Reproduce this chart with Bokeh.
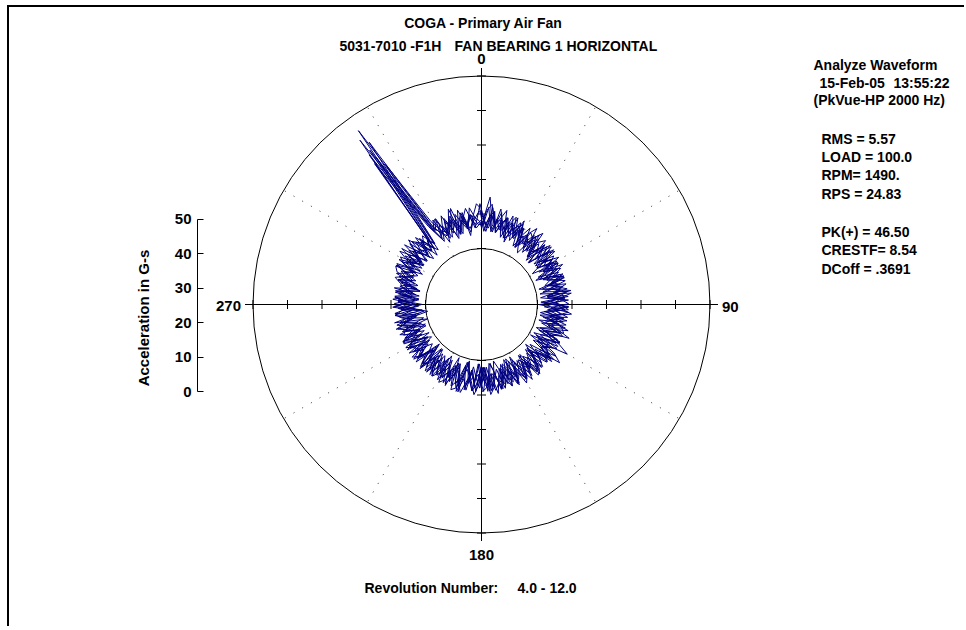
import numpy as np
from bokeh.plotting import figure
from bokeh.models import Range1d, LinearAxis, FixedTicker
from bokeh.core.properties import value
from bokeh.embed import file_html
from bokeh.resources import INLINE

# ---------------- data ----------------
title_line1 = "COGA - Primary Air Fan"
point_id = "5031-7010 -F1H"
point_desc = "FAN BEARING 1 HORIZONTAL"
angle_labels = ["0", "90", "180", "270"]
angle_label_deg = [0, 90, 180, 270]
g_ticks = [0, 10, 20, 30, 40, 50]
g_max = 50
dotted_deg = [30, 60, 120, 150, 210, 240, 300, 330]
y_axis_title = "Acceleration in G-s"
rev_caption = "Revolution Number:"
rev_span = "4.0 -  12.0"
info_head = ["Analyze Waveform", "15-Feb-05", "13:55:22", "(PkVue-HP 2000 Hz)"]
info_stats1 = ["RMS =  5.57", "LOAD = 100.0", "RPM= 1490.", "RPS = 24.83"]
info_stats2 = ["PK(+) = 46.50", "CRESTF= 8.54", "DCoff = .3691"]

step_deg = 3
rev_phase_deg = [0.7, 1.3, -0.9, 0.4, -0.5, 1.6, 0.1, -1.2]

rev4_g = [10, 6, 12, 7, 9, 4, 8, 11, 5, 9, 3, 8,
          6, 10, 4, 7, 2, 9, 5, 8, 3, 10, 6, 4,
          8, 2, 7, 5, 9, 1, 6, 8, 3, 7, 4, 9,
          5, 2, 8, 6, 3, 9, 12, 4, 7, 2, 8, 5,
          9, 3, 6, 8, 2, 7, 4, 9, 5, 1, 8, 6,
          3, 9, 5, 7, 1, 8, 4, 6, 9, 2, 7, 5,
          8, 3, 6, 2, 9, 5, 7, 3, 8, 4, 6, 9,
          2, 7, 5, 8, 1, 6, 9, 3, 7, 4, 8, 5,
          9, 5, 11, 6, 8, 4, 10, 7, 5, 9, 6, 4,
          45.5, 11, 7, 9, 5, 10, 6, 12, 8, 5, 9, 7]
rev5_g = [7, 12, 5, 9, 6, 10, 4, 7, 9, 3, 7, 5,
          9, 4, 8, 6, 10, 3, 7, 5, 9, 2, 8, 5,
          3, 9, 6, 4, 8, 2, 9, 5, 7, 1, 6, 8,
          9, 4, 6, 1, 8, 5, 10, 7, 3, 9, 4, 7,
          4, 8, 2, 9, 6, 3, 8, 5, 10, 4, 7, 2,
          8, 5, 2, 9, 6, 10, 3, 7, 5, 8, 2, 6,
          4, 9, 6, 1, 7, 5, 8, 2, 6, 9, 3, 7,
          6, 9, 3, 7, 4, 9.5, 5, 2, 8, 6, 3, 9,
          5, 8, 6, 10, 4, 9, 7, 11, 5, 8, 10, 6,
          41, 9, 12, 6, 8, 11, 5, 9, 7, 10, 6, 11]
rev6_g = [13, 8, 6, 11, 5, 8, 10, 6, 8, 5, 9, 4,
          7, 3, 9, 5, 8, 6, 4, 9, 7, 4, 8, 3,
          6, 9, 4, 7, 3, 8, 5, 2, 9, 6, 3, 7,
          2, 7, 4, 9, 5, 3, 7, 9, 5, 8, 3, 6,
          7, 5, 9, 4, 7, 1, 6, 9, 3, 6, 9, 4,
          6, 1, 7, 4, 8, 5, 9, 6, 3, 9, 5, 8,
          6, 2, 8, 5, 3, 8, 4, 9, 2, 7, 5, 3,
          8, 4, 1, 7, 9, 3, 6, 8, 2, 9, 5, 7,
          4, 10, 7, 5, 9, 6, 12, 4, 8, 6, 9, 5,
          38, 12, 6, 10, 7, 9, 4, 8, 11, 7, 10, 6]
rev7_g = [8, 5, 10, 7, 11, 6, 9, 5, 7, 10, 6, 8,
          4, 8, 6, 2, 9, 7, 3, 8, 5, 7, 2, 9,
          5, 7, 2, 9, 6, 4, 7, 9, 2, 8, 5, 3,
          7, 9, 5, 3, 9, 6, 8, 2, 6, 9, 5, 3,
          8, 6, 3, 7, 5, 9, 2, 7, 6, 4, 9, 7,
          2, 7, 9, 5, 3, 6, 8, 2, 7, 4, 9, 3,
          9, 5, 7, 8, 4, 2, 6, 7, 9, 3, 8, 5,
          4, 8, 6, 2, 5, 8, 3, 9.5, 5, 7, 2, 6,
          8, 6, 4, 9, 11, 5, 7, 9, 4, 11, 7, 8,
          36, 10, 8, 6, 11, 7, 9, 5, 10, 6, 8, 10]
rev8_g = [11, 7, 9, 5, 12, 8, 6, 9, 4, 8, 6, 10,
          5, 9, 7, 3, 6, 10, 5, 3, 8, 6, 9, 6,
          9, 4, 8, 6, 1, 7, 9, 4, 6, 9, 2, 6,
          4, 8, 6, 9, 2, 7, 5, 8, 9, 4, 7, 9,
          5, 3, 8, 6, 9, 4, 8, 3, 7, 9, 5, 8,
          9, 4, 6, 3, 9, 2, 7, 9, 4, 6, 8, 4,
          2, 8, 4, 9, 6, 7, 3, 5, 8, 6, 2, 8,
          7, 3, 8, 5, 0.5, 7, 4, 6, 9, 3, 7, 8,
          10, 7, 5, 8, 6, 10, 5, 8, 12, 7, 5, 9,
          43, 11, 5, 8, 12, 6, 10, 7, 9, 12, 8, 7]
rev9_g = [9, 15, 7, 6, 9, 5, 11, 7, 10, 6, 4, 9,
          8, 6, 3, 9, 5, 8, 6, 10, 4, 7, 5, 8,
          4, 6, 9, 3, 7, 5, 8, 3, 6, 4, 9, 5,
          8, 3, 9, 7, 6, 2, 9, 5, 4, 7, 9, 2,
          6, 9, 5, 2, 8, 6, 3, 9, 4, 8, 2, 9,
          5, 8, 3, 6, 10, 7, 2, 8, 5, 3, 7, 9,
          7, 4, 9, 3, 8, 6, 2, 9, 5, 8, 4, 6,
          9, 6, 3, 9, 7, 2, 8, 5, 4, 8, 6, 3,
          7, 9, 5, 11, 7, 4, 9, 6, 10, 5, 8, 6,
          33, 12, 8, 7, 9, 5, 11, 8, 6, 10, 9, 8]
rev10_g = [6, 11, 13, 7, 9, 12, 4, 9, 6, 11, 3, 8,
           11, 4, 8, 10, 2, 7, 10, 3, 9, 6, 1, 8,
           9, 1, 5, 10, 3, 9, 0.5, 7, 10, 4, 8, 1,
           7, 11, 2, 9, 12.5, 3, 6, 10, 1, 5, 9, 10,
           2, 8, 10, 4, 1, 9, 7, 3, 0.5, 8, 10, 2,
           8, 1, 9, 6, 0.5, 10, 4, 2, 9.5, 5, 1, 8,
           3, 9, 1, 8, 4, 9, 6, 1, 3, 9, 8, 1,
           6, 0, 9.5, 3, 9, 5, 1, 8, 4, 9, 2, 8,
           5, 10, 11, 3, 8, 12, 7, 4, 11, 9, 3, 8,
           39, 9, 12, 4, 10, 8, 13, 6, 11, 4, 9, 13]
rev11_g = [12, 5, 9, 11, 5, 8, 10, 3, 11, 6, 9, 4,
           2, 8, 11, 3, 9, 4, 10, 5, 1, 9, 7, 3,
           9, 4, 7, 1, 10, 6, 2, 9, 4, 1, 9, 5,
           10, 5, 1, 6, 9, 0.5, 10, 5, 9, 2, 7, 10,
           4, 10, 6, 1, 9.5, 4, 2, 7, 9, 3, 1, 9,
           2, 7, 10, 6, 3, 1, 9, 10, 0.5, 8, 9.5, 3,
           9, 5, 1, 9.5, 0.5, 7, 9, 3, 8, 1, 9, 5,
           1, 9.5, 6, 4, -0.5, 3, 9, 5, 9, 2, 9.5, 3,
           9, 4, 8, 11, 4, 9, 5, 12, 6, 3, 10, 5,
           35, 11, 6, 12, 5, 9, 13, 5, 10, 6, 12, 9]
revolutions = [rev4_g, rev5_g, rev6_g, rev7_g, rev8_g, rev9_g, rev10_g, rev11_g]

# ---------------- layout ----------------
ORGX, ORGY = 9, 7        # page position of canvas (css margin + 2px border)
W, H = 957, 621
CXP, CYP = 481, 304      # page position of polar centre
FRAME_LEFT = 197         # page x of left axis line
G0_PAGE = 391            # page y of 0 g on left axis
R0 = 56.0                # px radius of 0 g circle
K = 3.45                 # px per g
TEXT_DY = 5              # baseline correction for text glyphs

FONT = value("Liberation Sans")

def dx(px):
    return px - CXP

def dy(py):
    return CYP - py

p = figure(width=W, height=H, output_backend="svg", toolbar_location=None,
           x_range=Range1d(FRAME_LEFT - CXP, ORGX + W - CXP),
           y_range=Range1d(CYP - (ORGY + H), CYP - ORGY),
           x_axis_location=None, y_axis_location=None,
           min_border_left=FRAME_LEFT - ORGX, min_border_right=0,
           min_border_top=0, min_border_bottom=0,
           background_fill_color="white", border_fill_color="white",
           styles={"margin-left": "7px", "margin-top": "5px",
                   "border-left": "2px solid black", "border-top": "2px solid black"})
p.outline_line_color = None
for g in p.grid:
    g.visible = False

# left axis in g units
p.extra_y_ranges = {"g": Range1d(start=(G0_PAGE - (ORGY + H)) / K, end=(G0_PAGE - ORGY) / K)}
ax = LinearAxis(y_range_name="g", bounds=(0, g_max), ticker=FixedTicker(ticks=g_ticks),
                axis_label=y_axis_title)
ax.major_tick_in = 6
ax.major_tick_out = 0
ax.minor_tick_line_color = None
ax.axis_line_color = "black"
ax.major_tick_line_color = "black"
ax.major_label_standoff = 6
ax.major_label_text_font = "Liberation Sans"
ax.major_label_text_font_style = "bold"
ax.major_label_text_font_size = "15px"
ax.major_label_text_color = "black"
ax.axis_label_text_font = "Liberation Sans"
ax.axis_label_text_font_style = "bold"
ax.axis_label_text_font_size = "15px"
ax.axis_label_text_color = "black"
ax.axis_label_standoff = 20
p.add_layout(ax, "left")

r_out = R0 + K * g_max

# dotted radial lines
th = np.deg2rad(dotted_deg)
p.segment(x0=R0 * np.sin(th), y0=R0 * np.cos(th), x1=r_out * np.sin(th), y1=r_out * np.cos(th),
          line_color="#333333", line_width=1, line_dash="1 9")

# circles
p.circle(x=[0, 0], y=[0, 0], radius=[R0, r_out], fill_color=None,
         line_color="black", line_width=1)

# cross hair
ext = r_out + 8
p.segment(x0=[-ext, 0], y0=[0, -ext], x1=[ext, 0], y1=[0, ext], line_color="black", line_width=1)

# ticks on cross hair
tr = np.array([R0 + K * t for t in g_ticks])
tl = 4.5
p.segment(x0=np.concatenate([tr, -tr]), y0=-tl, x1=np.concatenate([tr, -tr]), y1=tl,
          line_color="black", line_width=1)
p.segment(x0=-tl, y0=np.concatenate([tr, -tr]), x1=tl, y1=np.concatenate([tr, -tr]),
          line_color="black", line_width=1)

# waveform (continuous over the revolutions)
xs, ys = [], []
for vals, ph in zip(revolutions, rev_phase_deg):
    ang = np.deg2rad(np.arange(len(vals)) * step_deg + ph)
    rr = R0 + K * np.array(vals, dtype=float)
    xs.extend(rr * np.sin(ang))
    ys.extend(rr * np.cos(ang))
p.line(xs, ys, line_color="#000080", line_width=1)

def txt(x, y, s, align="left", size="14px"):
    p.text(x=[x], y=[y + TEXT_DY], text=[s], text_font=FONT, text_font_style="bold",
           text_font_size=size, text_align=align, text_baseline="alphabetic",
           text_color="black")

# angle labels (baseline offsets from the outer circle)
lab_pos = {0: (0, r_out + 12, "center"), 90: (r_out + 12, -7, "left"),
           180: (0, -(r_out + 27), "center"), 270: (-(r_out + 12), -6, "right")}
for s, a in zip(angle_labels, angle_label_deg):
    x, y, al = lab_pos[a]
    txt(x, y, s, al, "15px")

# titles
txt(dx(483), dy(27), title_line1, "center")
txt(dx(339), dy(50), point_id, "left")
txt(dx(454), dy(50), point_desc, "left")

# info block
txt(dx(813), dy(69), info_head[0])
txt(dx(819), dy(87), info_head[1])
txt(dx(893), dy(87), info_head[2])
txt(dx(813), dy(104), info_head[3])
for i, s in enumerate(info_stats1):
    txt(dx(821), dy(143 + 18.4 * i), s)
for i, s in enumerate(info_stats2):
    txt(dx(821), dy(236.5 + 18.4 * i), s)

# revolution caption
txt(dx(364), dy(592), rev_caption)
txt(dx(517), dy(592), rev_span)

open("out.html", "w").write(file_html(p, INLINE))
